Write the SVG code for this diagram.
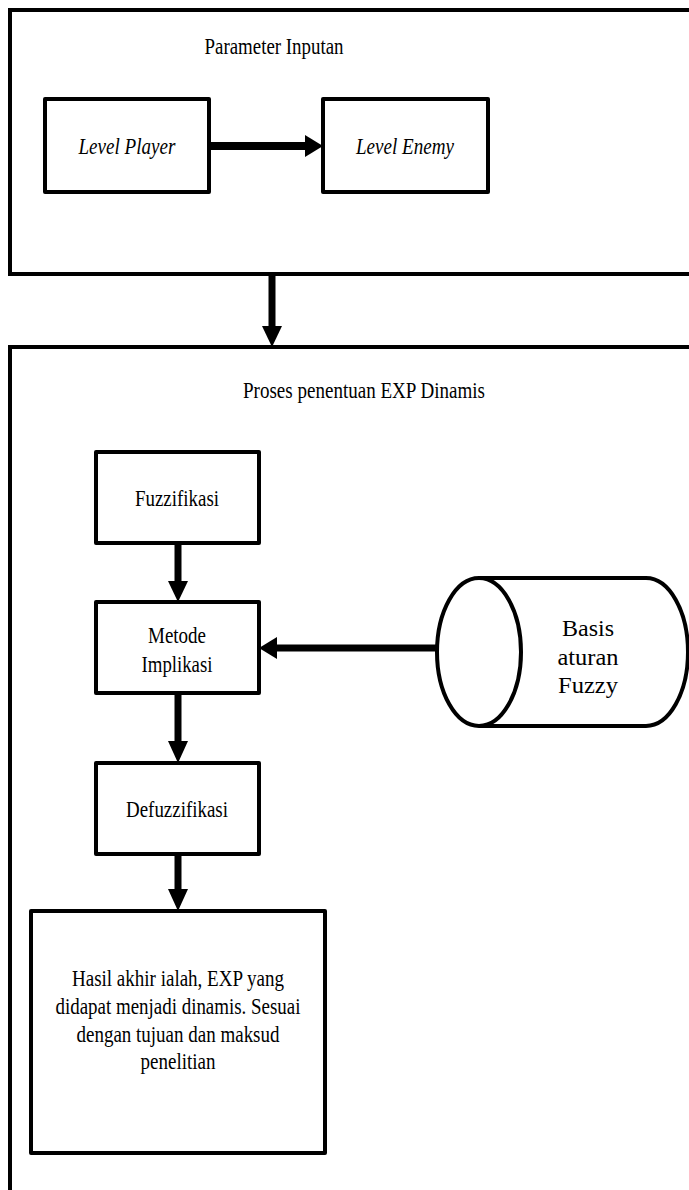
<svg xmlns="http://www.w3.org/2000/svg" width="689" height="1190" viewBox="0 0 689 1190">
<style>
.box{fill:#fff;stroke:#000;stroke-width:4;stroke-linejoin:round}
.frame{fill:#fff;stroke:#000;stroke-width:4}
.t{font-family:"Liberation Serif","Times New Roman",serif;font-size:24px;fill:#000;text-anchor:middle}
.i{font-style:italic}
.shaft{stroke:#000;stroke-width:7;fill:none}
.head{fill:#000}
</style>
<g id="input-frame">
<rect class="frame" x="10" y="10" width="710" height="264"/>
<text class="t" x="274" y="54" textLength="139" lengthAdjust="spacingAndGlyphs">Parameter Inputan</text>
</g>
<g id="process-frame">
<rect class="frame" x="10" y="347" width="710" height="900"/>
<text class="t" x="364" y="398" textLength="242" lengthAdjust="spacingAndGlyphs">Proses penentuan EXP Dinamis</text>
</g>
<g id="level-player">
<rect class="box" x="45" y="99" width="164" height="93"/>
<text class="t i" x="127" y="154" textLength="97" lengthAdjust="spacingAndGlyphs">Level Player</text>
</g>
<g id="level-enemy">
<rect class="box" x="323" y="99" width="165" height="93"/>
<text class="t i" x="405" y="154" textLength="98" lengthAdjust="spacingAndGlyphs">Level Enemy</text>
</g>
<g id="fuzzifikasi">
<rect class="box" x="96" y="452" width="163" height="91"/>
<text class="t" x="177" y="506" textLength="84" lengthAdjust="spacingAndGlyphs">Fuzzifikasi</text>
</g>
<g id="metode-implikasi">
<rect class="box" x="96" y="602" width="163" height="91"/>
<text class="t" x="177" y="643" textLength="58" lengthAdjust="spacingAndGlyphs">Metode</text>
<text class="t" x="177" y="672" textLength="71" lengthAdjust="spacingAndGlyphs">Implikasi</text>
</g>
<g id="basis-aturan">
<path class="box" d="M479 578 L646 578 A42 74 0 0 1 646 726 L479 726"/>
<ellipse class="box" cx="479" cy="652" rx="42" ry="74"/>
<text class="t" x="588" y="636" textLength="52" lengthAdjust="spacingAndGlyphs">Basis</text>
<text class="t" x="588" y="665" textLength="61" lengthAdjust="spacingAndGlyphs">aturan</text>
<text class="t" x="588" y="693" textLength="60" lengthAdjust="spacingAndGlyphs">Fuzzy</text>
</g>
<g id="defuzzifikasi">
<rect class="box" x="96" y="763" width="163" height="91"/>
<text class="t" x="177" y="817" textLength="102" lengthAdjust="spacingAndGlyphs">Defuzzifikasi</text>
</g>
<g id="hasil">
<rect class="box" x="31" y="911" width="294" height="242"/>
<text class="t" x="178" y="986" textLength="212" lengthAdjust="spacingAndGlyphs">Hasil akhir ialah, EXP yang</text>
<text class="t" x="178" y="1014" textLength="245" lengthAdjust="spacingAndGlyphs">didapat menjadi dinamis. Sesuai</text>
<text class="t" x="178" y="1042" textLength="203" lengthAdjust="spacingAndGlyphs">dengan tujuan dan maksud</text>
<text class="t" x="178" y="1069" textLength="75" lengthAdjust="spacingAndGlyphs">penelitian</text>
</g>
<g id="connectors">
<line class="shaft" x1="211" y1="146" x2="308" y2="146" style="stroke-width:8"/>
<polygon class="head" points="305,135 323,146 305,157"/>
<line class="shaft" x1="272" y1="274" x2="272" y2="328"/>
<polygon class="head" points="262,326 282,326 272,347"/>
<line class="shaft" x1="178" y1="545" x2="178" y2="583"/>
<polygon class="head" points="168,581 188,581 178,602"/>
<line class="shaft" x1="437" y1="648" x2="275" y2="648"/>
<polygon class="head" points="277,637 277,659 259,648"/>
<line class="shaft" x1="178" y1="695" x2="178" y2="743"/>
<polygon class="head" points="168,741 188,741 178,763"/>
<line class="shaft" x1="178" y1="856" x2="178" y2="891"/>
<polygon class="head" points="168,889 188,889 178,911"/>
</g>
</svg>
